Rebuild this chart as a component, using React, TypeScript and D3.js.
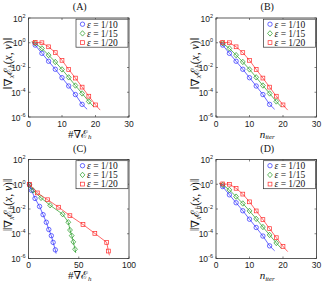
import * as d3 from "d3";
import { useEffect, useRef } from "react";

// gradient norm against iteration count, for eps = 1/10, 1/15, 1/20
const iterBlueX = [1, 2, 4, 6, 8, 10, 12, 14, 16, 17.5];
const iterBlueY = [1.1, 0.65, 0.14, 0.032, 7.2e-3, 1.5e-3, 3.2e-4, 6.5e-5, 1.05e-5, 4.2e-6];
const iterGreenX = [1, 2, 4, 6, 8, 10, 12, 14, 16, 18, 19.5];
const iterGreenY = [1.2, 0.9, 0.35, 0.1, 0.028, 7e-3, 1.6e-3, 3.5e-4, 8e-5, 1.8e-5, 6.5e-6];
const iterRedX = [1, 2, 4, 6, 8, 10, 12, 14, 16, 18, 20, 21.4];
const iterRedY = [1.2, 1.07, 1.0, 0.47, 0.16, 0.038, 7e-3, 1.4e-3, 2.6e-4, 4.8e-5, 9.5e-6, 3.6e-6];

// gradient norm against number of gradient evaluations (panel C)
const evalBlueX = [1, 3, 6.5, 11, 14.5, 17.7, 20.2, 22.7, 24.5, 26.7, 27.5];
const evalBlueY = [0.89, 0.32, 0.071, 0.016, 3.5e-3, 8.5e-4, 2.2e-4, 7e-5, 2e-5, 5e-6, 2.5e-6];
const evalGreenX = [1, 4.5, 12.5, 21.5, 34, 39.6, 41.3, 43, 44.6, 46.3, 47];
const evalGreenY = [0.89, 0.32, 0.079, 0.02, 3.8e-3, 8.5e-4, 2e-4, 7e-5, 2.2e-5, 5.6e-6, 2.8e-6];
const evalRedX = [1, 8.8, 19, 30, 41.2, 54.2, 66, 77.8, 79.5, 80.5];
const evalRedY = [1.0, 0.2, 0.056, 0.014, 2.9e-3, 5.6e-4, 1.07e-4, 2e-5, 4e-6, 1.8e-6];

const legendLabels = ["1/10", "1/15", "1/20"];
const colors = ["#2a2aff", "#1f9a1f", "#ff2a2a"];
const shapes = ["circle", "diamond", "square"];
const yTicks = [1e2, 1e0, 1e-2, 1e-4, 1e-6];
const yTickExp = ["2", "0", "-2", "-4", "-6"];

const serif = "'Liberation Serif', 'DejaVu Serif', serif";
const sans = "'Liberation Sans', Arial, sans-serif";

const panels = [
  { title: "(A)", left: 28.5, top: 18, xMax: 30, xTicks: [0, 10, 20, 30], xLabel: "grad", firstMark: 1,
    xs: [iterBlueX, iterGreenX, iterRedX], ys: [iterBlueY, iterGreenY, iterRedY] },
  { title: "(B)", left: 216, top: 18, xMax: 30, xTicks: [0, 10, 20, 30], xLabel: "iter", firstMark: 1,
    xs: [iterBlueX, iterGreenX, iterRedX], ys: [iterBlueY, iterGreenY, iterRedY] },
  { title: "(C)", left: 28.5, top: 159.5, xMax: 100, xTicks: [0, 50, 100], xLabel: "grad", firstMark: 0,
    xs: [evalBlueX, evalGreenX, evalRedX], ys: [evalBlueY, evalGreenY, evalRedY] },
  { title: "(D)", left: 216, top: 159.5, xMax: 30, xTicks: [0, 10, 20, 30], xLabel: "iter", firstMark: 1,
    xs: [iterBlueX, iterGreenX, iterRedX], ys: [iterBlueY, iterGreenY, iterRedY] },
];

const W = 100.5;
const H = 99;

function drawMarker(g, shape, cx, cy, color) {
  if (shape === "circle") {
    g.append("circle").attr("cx", cx).attr("cy", cy).attr("r", 2.2)
      .attr("fill", "none").attr("stroke", color).attr("stroke-width", 0.7);
  } else if (shape === "diamond") {
    g.append("path").attr("d", `M${cx},${cy - 2.7}L${cx + 2.4},${cy}L${cx},${cy + 2.7}L${cx - 2.4},${cy}Z`)
      .attr("fill", "none").attr("stroke", color).attr("stroke-width", 0.7);
  } else {
    g.append("rect").attr("x", cx - 1.9).attr("y", cy - 1.9).attr("width", 3.8).attr("height", 3.8)
      .attr("fill", "none").attr("stroke", color).attr("stroke-width", 0.7);
  }
}

function App() {
  const svgRef = useRef(null);

  useEffect(() => {
    const svg = d3.select(svgRef.current);
    svg.selectAll("*").remove();

    panels.forEach((p) => {
      const g = svg.append("g");
      const x = d3.scaleLinear().domain([0, p.xMax]).range([p.left, p.left + W]);
      const y = d3.scaleLog().domain([1e-6, 1e2]).range([p.top + H, p.top]);

      // curves with markers
      p.xs.forEach((xs, s) => {
        const pts = xs.map((v, i) => [v, p.ys[s][i]]);
        const line = d3.line().x((d) => x(d[0])).y((d) => y(d[1]));
        g.append("path").attr("d", line(pts)).attr("fill", "none")
          .attr("stroke", colors[s]).attr("stroke-width", 0.7);
        pts.slice(p.firstMark, pts.length - 1).forEach((d) => {
          drawMarker(g, shapes[s], x(d[0]), y(d[1]), colors[s]);
        });
      });

      // frame and ticks
      g.append("rect").attr("x", p.left).attr("y", p.top).attr("width", W).attr("height", H)
        .attr("fill", "none").attr("stroke", "#333").attr("stroke-width", 0.8);

      p.xTicks.forEach((t) => {
        g.append("line").attr("x1", x(t)).attr("x2", x(t)).attr("y1", p.top + H).attr("y2", p.top + H - 2)
          .attr("stroke", "#333").attr("stroke-width", 0.6);
        g.append("line").attr("x1", x(t)).attr("x2", x(t)).attr("y1", p.top).attr("y2", p.top + 2)
          .attr("stroke", "#333").attr("stroke-width", 0.6);
        g.append("text").attr("x", x(t)).attr("y", p.top + H + 9.5).attr("text-anchor", "middle")
          .attr("font-family", sans).attr("font-size", 8.5).attr("fill", "#222").text(t);
      });

      yTicks.forEach((t, i) => {
        g.append("line").attr("x1", p.left).attr("x2", p.left + 2).attr("y1", y(t)).attr("y2", y(t))
          .attr("stroke", "#333").attr("stroke-width", 0.6);
        g.append("line").attr("x1", p.left + W).attr("x2", p.left + W - 2).attr("y1", y(t)).attr("y2", y(t))
          .attr("stroke", "#333").attr("stroke-width", 0.6);
        const lab = g.append("text").attr("x", p.left - 3).attr("y", y(t) + 3.5).attr("text-anchor", "end")
          .attr("font-family", sans).attr("font-size", 8.5).attr("fill", "#222");
        lab.append("tspan").text("10");
        lab.append("tspan").attr("dy", -4).attr("font-size", 5.5).text(yTickExp[i]);
      });

      // title
      g.append("text").attr("x", p.left + W / 2 + 1).attr("y", p.top - 8).attr("text-anchor", "middle")
        .attr("font-family", serif).attr("font-size", 10).attr("fill", "#111").text(p.title);

      // x label
      const xl = g.append("text").attr("x", p.left + W / 2 + 1).attr("y", p.top + H + 20.5)
        .attr("text-anchor", "middle").attr("font-family", serif).attr("font-size", 11).attr("fill", "#111");
      if (p.xLabel === "grad") {
        xl.append("tspan").text("#∇ℰ");
        xl.append("tspan").attr("dy", 1.5).attr("font-size", 7).attr("font-style", "italic").text("h");
      } else {
        xl.append("tspan").attr("font-style", "italic").text("n");
        xl.append("tspan").attr("dy", 1.5).attr("font-size", 7).attr("font-style", "italic").text("iter");
      }

      // y label
      const cy = p.top + H / 2 - 4;
      const yl = g.append("text").attr("transform", `translate(${p.left - 17},${cy}) rotate(-90)`)
        .attr("text-anchor", "middle").attr("font-family", serif).attr("font-size", 11.5).attr("fill", "#111");
      yl.append("tspan").text("‖∇");
      yl.append("tspan").attr("dy", 2).attr("font-size", 7.5).attr("font-style", "italic").text("x");
      yl.append("tspan").attr("dy", -2).text("ℰ");
      yl.append("tspan").attr("dy", 2).attr("font-size", 7.5).attr("font-style", "italic").text("h");
      yl.append("tspan").attr("dy", -2).text("(");
      yl.append("tspan").attr("font-style", "italic").text("x");
      yl.append("tspan").text(", ");
      yl.append("tspan").attr("font-style", "italic").text("v");
      yl.append("tspan").text(")‖");

      // legend
      const lx = p.left + W - 53;
      const ly = p.top + 1.2;
      g.append("rect").attr("x", lx).attr("y", ly).attr("width", 52).attr("height", 28)
        .attr("fill", "white").attr("stroke", "#333").attr("stroke-width", 0.7);
      legendLabels.forEach((lab, i) => {
        const ry = ly + 5 + i * 9.2;
        drawMarker(g, shapes[i], lx + 6.5, ry, colors[i]);
        const t = g.append("text").attr("x", lx + 11).attr("y", ry + 3.3)
          .attr("font-family", serif).attr("font-size", 9.5).attr("fill", "#111");
        t.append("tspan").attr("font-style", "italic").text("ε");
        t.append("tspan").text(" = " + lab);
      });
    });
  }, []);

  return (
    <svg ref={svgRef} width={324} height={283}
      style={{ position: "absolute", left: 0, top: 0, background: "white" }} />
  );
}

export default App;
